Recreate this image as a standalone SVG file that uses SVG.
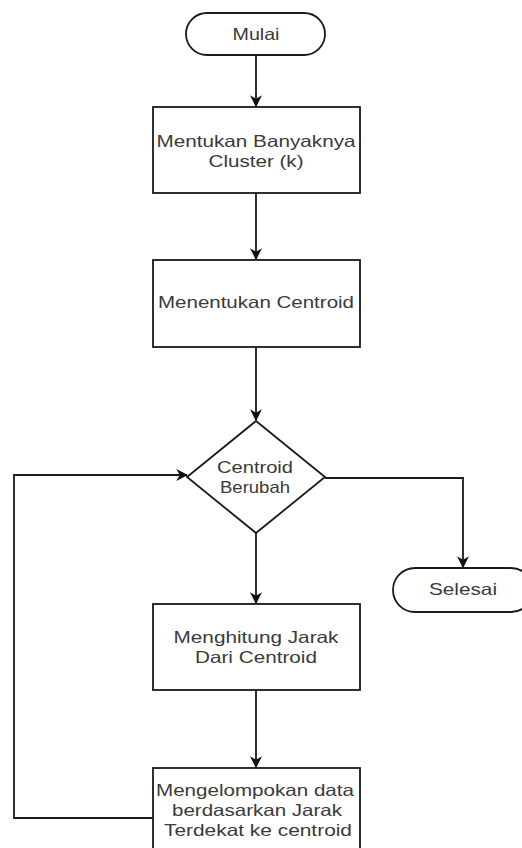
<svg xmlns="http://www.w3.org/2000/svg" width="522" height="848" viewBox="0 0 522 848">
<style>
.shape{fill:#fff;stroke:#1a1a1a;stroke-width:1.8}
.edge{fill:none;stroke:#1a1a1a;stroke-width:1.8}
.lbl{font-family:"Liberation Sans",Arial,sans-serif;font-size:16.5px;fill:#3a3a3a;text-anchor:middle}
</style>
<defs>
<marker id="arr" viewBox="0 0 10 10" refX="9" refY="5" markerWidth="12" markerHeight="12" markerUnits="userSpaceOnUse" orient="auto">
<path d="M0,0 L10,5 L0,10 L3,5 Z" fill="#111"/>
</marker>
</defs>
<rect width="522" height="848" fill="#fff"/>
<g id="connectors">
<path class="edge" d="M256,55 V106" marker-end="url(#arr)"/>
<path class="edge" d="M256,193 V259" marker-end="url(#arr)"/>
<path class="edge" d="M256,347 V420" marker-end="url(#arr)"/>
<path class="edge" d="M256,533 V603" marker-end="url(#arr)"/>
<path class="edge" d="M256,690 V767" marker-end="url(#arr)"/>
<path class="edge" d="M153,818 H14 V475 H187" marker-end="url(#arr)"/>
<path class="edge" d="M325,478 H463 V567" marker-end="url(#arr)"/>
</g>
<g id="mulai">
<rect class="shape" x="186" y="13" width="139" height="42" rx="21" ry="21"/>
<text class="lbl" x="256" y="39.5" textLength="47" lengthAdjust="spacingAndGlyphs">Mulai</text>
</g>
<g id="banyak-cluster">
<rect class="shape" x="153" y="107" width="207" height="86"/>
<text class="lbl" x="256" y="147" textLength="199" lengthAdjust="spacingAndGlyphs">Mentukan Banyaknya</text>
<text class="lbl" x="256" y="167" textLength="95" lengthAdjust="spacingAndGlyphs">Cluster (k)</text>
</g>
<g id="centroid">
<rect class="shape" x="153" y="260" width="207" height="87"/>
<text class="lbl" x="256" y="308" textLength="196" lengthAdjust="spacingAndGlyphs">Menentukan Centroid</text>
</g>
<g id="berubah">
<polygon class="shape" points="256,421 325,477 256,533 187,477"/>
<text class="lbl" x="255" y="473" textLength="76" lengthAdjust="spacingAndGlyphs">Centroid</text>
<text class="lbl" x="255" y="493" textLength="70" lengthAdjust="spacingAndGlyphs">Berubah</text>
</g>
<g id="selesai">
<rect class="shape" x="393" y="568" width="140" height="44" rx="22" ry="22"/>
<text class="lbl" x="463" y="595" textLength="68" lengthAdjust="spacingAndGlyphs">Selesai</text>
</g>
<g id="jarak">
<rect class="shape" x="153" y="604" width="207" height="86"/>
<text class="lbl" x="256" y="643" textLength="165" lengthAdjust="spacingAndGlyphs">Menghitung Jarak</text>
<text class="lbl" x="256" y="663" textLength="122" lengthAdjust="spacingAndGlyphs">Dari Centroid</text>
</g>
<g id="kelompok">
<rect class="shape" x="153" y="768" width="207" height="92"/>
<text class="lbl" x="255" y="796" textLength="198" lengthAdjust="spacingAndGlyphs">Mengelompokan data</text>
<text class="lbl" x="257" y="816" textLength="170" lengthAdjust="spacingAndGlyphs">berdasarkan Jarak</text>
<text class="lbl" x="258" y="836" textLength="188" lengthAdjust="spacingAndGlyphs">Terdekat ke centroid</text>
</g>
</svg>
